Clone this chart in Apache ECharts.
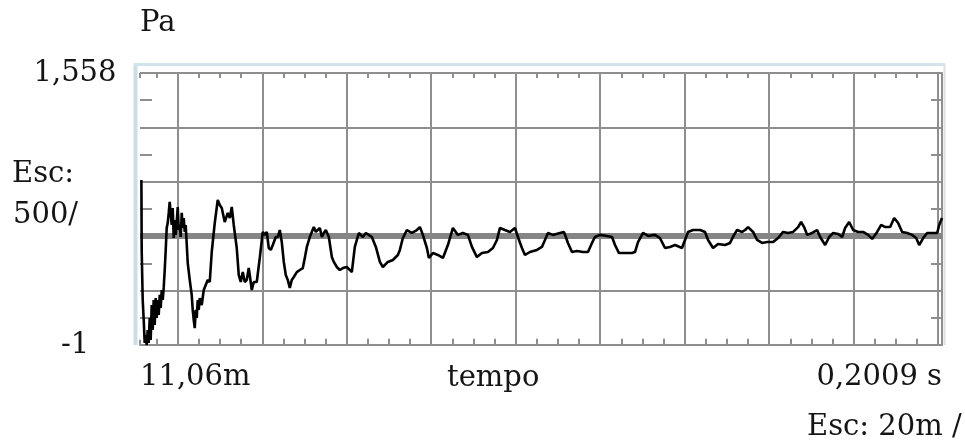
<!DOCTYPE html>
<html>
<head>
<meta charset="utf-8">
<title>Pa - tempo</title>
<script src="https://cdn.jsdelivr.net/npm/echarts@6/dist/echarts.min.js"></script>
<style>
  html, body { margin: 0; padding: 0; background: #fff; }
  #chart { width: 965px; height: 441px; }
</style>
</head>
<body>
<div id="chart"></div>
<script>
// time axis (ms)
var tMin = 11.06;
var tMax = 200.9;
// pressure axis (Pa), 5 divisions between the ends
var pMin = -1;
var pMax = 1558;
var pStep = 311.8;
var meanLevel = 624;

var xTickLabels = ['11,06m', '0,2009 s'];
var yTickLabels = ['-1', '1,558'];

// trace: [ms, Pa]
var trace = [
  [11.39, 945], [11.46, 544], [11.70, 257], [11.94, 142], [12.17, 11], [12.41, 56], [12.65, -1], [12.88, 85],
  [13.12, 11], [13.36, 154], [13.59, 28], [13.83, 228], [14.07, 85], [14.30, 257], [14.54, 114], [14.78, 268],
  [15.02, 154], [15.25, 257], [15.49, 171], [15.73, 286], [15.96, 211], [16.20, 314], [16.44, 257], [16.67, 326],
  [16.91, 429], [17.15, 544], [17.38, 670], [17.62, 698], [17.86, 756], [18.09, 819], [18.33, 830], [18.57, 687],
  [18.80, 784], [19.04, 612], [19.28, 715], [19.51, 630], [19.75, 704], [19.99, 790], [20.23, 658], [20.46, 687],
  [20.70, 618], [20.94, 756], [21.17, 670], [21.41, 727], [21.65, 647], [21.88, 687], [22.36, 469], [22.83, 372],
  [23.30, 286], [23.54, 200], [23.78, 142], [24.02, 96], [24.25, 200], [24.49, 154], [24.73, 257], [24.96, 200],
  [25.20, 268], [25.67, 228], [26.15, 314], [26.62, 303], [27.09, 372], [27.57, 360], [28.04, 532], [28.75, 698],
  [29.46, 830], [29.94, 801], [30.41, 784], [31.12, 704], [31.83, 756], [32.31, 727], [32.78, 790], [33.25, 687],
  [33.96, 555], [34.44, 400], [34.91, 360], [35.38, 417], [35.86, 360], [36.33, 372], [36.80, 440], [37.04, 400],
  [37.52, 314], [37.99, 360], [38.70, 360], [39.41, 498], [40.12, 647], [40.59, 630], [41.07, 647], [41.54, 555],
  [42.02, 544], [42.49, 572], [43.20, 618], [43.68, 618], [44.15, 658], [44.62, 589], [45.10, 475], [45.57, 400],
  [46.04, 372], [46.52, 326], [46.99, 372], [47.47, 389], [48.18, 417], [48.89, 429], [49.60, 440], [50.07, 498],
  [50.55, 561], [51.26, 618], [51.73, 647], [52.20, 675], [52.68, 647], [53.15, 641], [53.63, 670], [54.10, 618],
  [54.57, 641], [55.05, 658], [55.76, 618], [56.47, 503], [56.94, 475], [57.65, 446], [58.36, 429], [59.07, 440],
  [60.02, 446], [60.73, 429], [61.20, 417], [61.91, 561], [62.86, 641], [63.81, 618], [64.52, 641], [64.99, 630],
  [65.94, 618], [66.89, 561], [67.84, 475], [68.55, 446], [69.73, 475], [70.92, 486], [72.10, 515], [72.57, 544],
  [73.28, 612], [74.23, 658], [75.41, 641], [76.60, 658], [77.31, 675], [78.02, 630], [78.97, 555], [79.44, 498],
  [80.39, 526], [81.57, 515], [82.76, 498], [83.94, 572], [85.13, 670], [86.31, 630], [87.49, 641], [88.68, 630],
  [89.63, 561], [90.81, 503], [92.00, 526], [93.42, 532], [94.60, 555], [95.55, 601], [96.26, 670], [97.44, 658],
  [98.63, 647], [99.81, 670], [100.52, 618], [101.47, 555], [102.18, 515], [103.36, 532], [105.02, 544], [106.20, 561],
  [106.92, 601], [107.63, 641], [108.81, 630], [110.47, 641], [111.42, 647], [112.36, 584], [113.31, 532], [114.50, 538],
  [115.92, 532], [117.10, 532], [118.05, 584], [118.76, 618], [119.94, 630], [121.60, 624], [122.79, 618], [123.50, 572],
  [124.44, 526], [125.87, 526], [127.52, 526], [128.23, 532], [128.94, 589], [130.13, 641], [131.31, 624], [132.97, 630],
  [134.15, 612], [135.34, 555], [136.52, 561], [137.71, 572], [139.36, 555], [140.07, 601], [140.78, 647], [141.97, 658],
  [143.63, 658], [144.81, 647], [145.52, 601], [146.71, 555], [147.89, 578], [149.55, 572], [150.73, 584], [151.68, 630],
  [152.39, 658], [153.58, 647], [154.29, 658], [155.00, 675], [156.19, 647], [157.13, 601], [158.32, 584], [159.50, 589],
  [160.92, 589], [162.11, 612], [163.29, 647], [164.47, 641], [165.66, 647], [166.84, 675], [167.55, 704], [168.26, 675],
  [168.97, 630], [170.16, 641], [171.34, 658], [172.05, 618], [173.24, 572], [174.19, 618], [175.13, 641], [176.32, 635],
  [177.26, 618], [177.97, 670], [178.92, 704], [179.87, 658], [181.05, 647], [182.23, 647], [183.42, 630], [184.37, 607],
  [185.55, 647], [186.50, 687], [187.44, 675], [188.63, 675], [189.58, 727], [190.52, 698], [191.47, 647], [192.65, 641],
  [193.84, 630], [194.79, 612], [195.50, 572], [196.45, 612], [197.39, 641], [198.58, 641], [199.76, 641], [200.24, 687],
  [200.90, 727]
];

var gridColor = '#8e8e8e';
var inkColor = '#151515';
var serif = 'DejaVu Serif';

var chart = echarts.init(document.getElementById('chart'));

function near(a, b) {
  return Math.abs(a - b) < 1e-6;
}

var option = {
  animation: false,
  backgroundColor: '#fff',
  grid: { left: 140, right: 23, top: 73, bottom: 96 },
  xAxis: [
    {
      // bottom: grid lines, small ticks, end labels
      type: 'value',
      min: tMin,
      max: tMax,
      splitNumber: 10,
      axisLine: { show: false },
      axisTick: { show: false, inside: true },
      minorTick: { show: true, splitNumber: 4, length: 6, lineStyle: { color: gridColor, width: 2 } },
      splitLine: { show: true, showMinLine: false, showMaxLine: false, lineStyle: { color: gridColor, width: 2 } },
      axisLabel: {
        showMinLabel: true,
        showMaxLabel: true,
        alignMinLabel: 'left',
        alignMaxLabel: 'right',
        margin: 18,
        fontFamily: serif,
        fontSize: 29,
        color: inkColor,
        formatter: function (v) {
          if (near(v, tMin)) return xTickLabels[0];
          if (near(v, tMax)) return xTickLabels[1];
          return '';
        }
      }
    },
    {
      // top ruler, outer half of the ticks
      type: 'value',
      position: 'top',
      min: tMin,
      max: tMax,
      splitNumber: 38,
      axisLine: { show: true, lineStyle: { color: gridColor, width: 2 } },
      axisTick: { show: true, length: 5, lineStyle: { color: gridColor, width: 2 } },
      axisLabel: { show: false },
      splitLine: { show: false }
    },
    {
      // top ruler, inner half
      type: 'value',
      position: 'top',
      min: tMin,
      max: tMax,
      splitNumber: 38,
      axisLine: { show: false },
      axisTick: { show: true, inside: true, length: 5, lineStyle: { color: gridColor, width: 2 } },
      axisLabel: { show: false },
      splitLine: { show: false }
    }
  ],
  yAxis: [
    {
      type: 'value',
      min: pMin,
      max: pMax,
      interval: pStep,
      name: 'Pa',
      nameLocation: 'end',
      nameGap: 50,
      nameTextStyle: { fontFamily: serif, fontSize: 29, color: inkColor, align: 'left', verticalAlign: 'middle' },
      axisLine: { show: false },
      axisTick: { show: false, inside: true },
      minorTick: { show: true, splitNumber: 2, length: 12, lineStyle: { color: gridColor, width: 2 } },
      splitLine: { show: true, showMinLine: false, lineStyle: { color: gridColor, width: 2 } },
      axisLabel: {
        showMinLabel: true,
        showMaxLabel: true,
        align: 'center',
        margin: 65,
        fontFamily: serif,
        fontSize: 29,
        color: inkColor,
        formatter: function (v) {
          if (near(v, pMin)) return yTickLabels[0];
          if (Math.abs(v - pMax) < 0.01) return yTickLabels[1];
          return '';
        }
      }
    },
    {
      type: 'value',
      position: 'right',
      min: pMin,
      max: pMax,
      interval: pStep,
      axisLine: { show: true, lineStyle: { color: gridColor, width: 2 } },
      axisTick: { show: false, inside: true },
      minorTick: { show: true, splitNumber: 2, length: 11, lineStyle: { color: gridColor, width: 2 } },
      splitLine: { show: false },
      axisLabel: { show: false }
    }
  ],
  series: [
    {
      // mean level
      type: 'line',
      silent: true,
      symbol: 'none',
      data: [[tMin, meanLevel], [tMax, meanLevel]],
      lineStyle: { color: '#858585', width: 6 },
      z: 2
    },
    {
      type: 'line',
      symbol: 'none',
      data: trace,
      lineStyle: { color: '#000', width: 2.6 },
      z: 3
    }
  ],
  graphic: [
    { type: 'line', shape: { x1: 135.5, y1: 63, x2: 135.5, y2: 345 }, style: { stroke: '#cadde9', lineWidth: 4 } },
    { type: 'line', shape: { x1: 134, y1: 64.5, x2: 945, y2: 64.5 }, style: { stroke: '#d3e3ec', lineWidth: 3 } },
    { type: 'line', shape: { x1: 944.5, y1: 64, x2: 944.5, y2: 345 }, style: { stroke: '#e0e0e0', lineWidth: 2 } },
    { type: 'text', style: { text: 'Esc:', x: 12, y: 174, font: '29px "DejaVu Serif"', fill: inkColor, verticalAlign: 'middle' } },
    { type: 'text', style: { text: '500/', x: 13, y: 215, font: '29px "DejaVu Serif"', fill: inkColor, verticalAlign: 'middle' } },
    { type: 'text', style: { text: 'tempo', x: 447, y: 378, font: '29px "DejaVu Serif"', fill: inkColor, verticalAlign: 'middle' } },
    { type: 'text', style: { text: 'Esc: 20m /', x: 807, y: 427, font: '29px "DejaVu Serif"', fill: inkColor, verticalAlign: 'middle' } }
  ]
};

chart.setOption(option);
window.addEventListener('resize', function () {
  chart.resize();
});
</script>
</body>
</html>
